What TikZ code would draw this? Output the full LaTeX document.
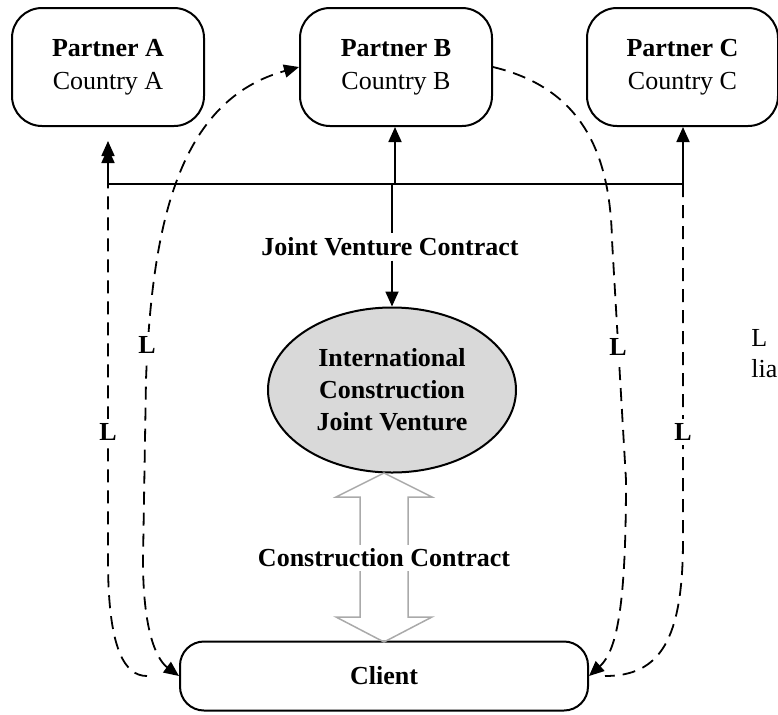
\documentclass[tikz,border=0pt]{standalone}
\usepackage{fontspec}
\setmainfont{Liberation Serif}
\usepackage{tikz}
\usetikzlibrary{arrows.meta,positioning,shapes.geometric,calc}
\definecolor{jvgray}{RGB}{217,217,217}
\definecolor{ccgray}{RGB}{170,170,170}

\begin{document}
\begin{tikzpicture}[x=0.5pt,y=-0.5pt,
        every node/.style={font=\fontsize{13}{15.5}\selectfont},
        party/.style={rounded corners=15pt, draw=black, line width=1pt, align=center,
          minimum width=96pt, minimum height=59pt, inner sep=0pt},
        venture/.style={ellipse, draw=black, line width=1pt, fill=jvgray, align=center,
          minimum width=124pt, minimum height=82.5pt, inner sep=0pt,
          font=\fontsize{13}{16}\selectfont\bfseries},
        tag/.style={font=\fontsize{13}{15.5}\selectfont\bfseries, fill=white, inner sep=2pt},
        link/.style={line width=0.9pt},
        arr/.style={line width=0.9pt, -{Triangle[length=7.5pt,width=6.5pt]}},
        liab/.style={line width=0.9pt, dash pattern=on 6.5pt off 4pt},
        tip/.style={-{Triangle[length=7.5pt,width=6.5pt]}}]
  \useasboundingbox (0,0) rectangle (778,714);

  % partners
  \node[party] (pa) at (108,67) {\textbf{Partner A}\\[1pt]Country A};
  \node[party] (pb) at (396,67) {\textbf{Partner B}\\[1pt]Country B};
  \node[party, minimum width=95.5pt] (pc) at (682.5,67) {\textbf{Partner C}\\[1pt]Country C};

  % joint venture and client
  \node[venture] (ijv) at (392,390) {International\\Construction\\Joint Venture};
  \node[rounded corners=12pt, draw=black, line width=1pt, minimum width=204pt,
    minimum height=34.5pt, font=\fontsize{13}{15.5}\selectfont\bfseries] (client) at (384,676) {Client};

  \coordinate (ja) at (108,184);
  \coordinate (jb) at (395,184);
  \coordinate (jc) at (683,184);
  \coordinate (jv) at (392,184);

  % liability lines
  \draw[liab, tip, shorten <=8pt, shorten >=10.5pt] ([xshift=-8pt]client.west)
    .. controls (125,676) and (108,650) .. (108,560) -- (pa.south);
  \draw[liab, {Triangle[length=7.5pt,width=6.5pt]}-{Triangle[length=7.5pt,width=6.5pt]}] (client.west)
    .. controls (160,662) and (143,640) .. (143,560) -- (146,380)
    .. controls (152,220) and (180,100) .. (pb.west);
  \draw[liab, tip] (pb.east) .. controls (580,88) and (610,150) .. (612,240) -- (626,480)
    .. controls (626,600) and (618,650) .. (client.east);
  \draw[liab] (jc) -- (683,540) .. controls (683,640) and (660,676) .. ([xshift=8pt]client.east);

  % joint venture contract
  \draw[link] (ja) -- (jc);
  \draw[arr, shorten >=7pt] (ja) -- (pa.south);
  \draw[arr] (jb) -- (jb |- pb.south);
  \draw[arr] (jc) -- (jc |- pc.south);
  \node[tag] (jvc) at (390,247) {Joint Venture Contract};
  \draw[link] (jv) -- (jv |- jvc.north);
  \draw[arr] (ijv.north |- jvc.south) -- (ijv.north);

  % construction contract
  \draw[ccgray, line width=0.75pt] (384,473) -- (432,497) -- (408,497) -- (408,617) -- (432,617)
    -- (384,642) -- (336,617) -- (360,617) -- (360,497) -- (336,497) -- cycle;
  \node[tag] (cc) at (384,558) {Construction Contract};

  \node[tag] (l1) at (108,432) {L};
  \node[tag] (l2) at (147,345) {L};
  \node[tag] (l3) at (618,347) {L};
  \node[tag] (l4) at (683,432) {L};

  % key
  \node[anchor=base west, align=left, inner sep=0pt] (key) at (751,377) {L\\lia};
\end{tikzpicture}
\end{document}
